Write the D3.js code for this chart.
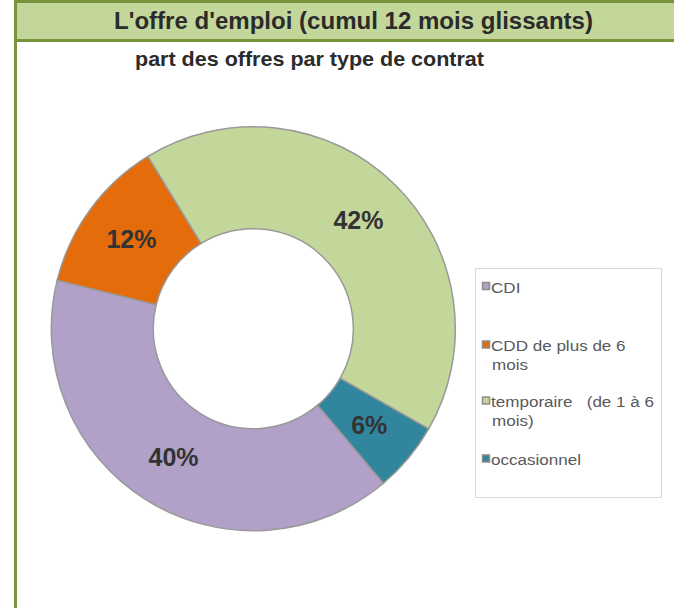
<!DOCTYPE html>
<html>
<head>
<meta charset="utf-8">
<script src="https://cdn.jsdelivr.net/npm/d3@7"></script>
<style>
  body { margin: 0; background: #fff; }
  svg { display: block; font-family: "Liberation Sans", Arial, sans-serif; }
</style>
</head>
<body>
<div id="chart"></div>
<script>
// data
const categories = ["CDI", "CDD de plus de 6 mois", "temporaire   (de 1 à 6 mois)", "occasionnel"];
const legendLines = [["CDI"], ["CDD de plus de 6", "mois"], ["temporaire   (de 1 à 6", "mois)"], ["occasionnel"]];
const shares = [40.0, 12.4, 42.0, 5.6];
const colors = ["#b1a0c7", "#e46c0a", "#c4d79b", "#31859c"];

const title = "L'offre d'emploi (cumul 12 mois glissants)";
const subtitle = "part des offres par type de contrat";

const width = 674, height = 608;
const cx = 253.3, cy = 328.7, outerR = 202, innerR = 100;

const svg = d3.select("#chart").append("svg")
    .attr("width", width)
    .attr("height", height);

// frame: left green rule + header band
svg.append("rect").attr("x", 14).attr("y", 0).attr("width", 3).attr("height", height).attr("fill", "#77933c");
svg.append("rect").attr("x", 14).attr("y", 0).attr("width", width - 14).attr("height", 42).attr("fill", "#77933c");
svg.append("rect").attr("x", 17).attr("y", 3).attr("width", width - 17).attr("height", 36).attr("fill", "#c4d79b");

function stretch(sel, w) {
    sel.attr("textLength", w).attr("lengthAdjust", "spacingAndGlyphs");
}

svg.append("text")
    .attr("x", 114).attr("y", 28.5)
    .attr("font-size", 23).attr("font-weight", "bold").attr("fill", "#2b2b2b")
    .text(title)
    .call(stretch, 479);

svg.append("text")
    .attr("x", 135).attr("y", 66)
    .attr("font-size", 21).attr("font-weight", "bold").attr("fill", "#2b2b2b")
    .text(subtitle)
    .call(stretch, 349);

// donut
const pie = d3.pie()
    .sort(null)
    .startAngle(139.9 * Math.PI / 180)
    .endAngle(139.9 * Math.PI / 180 + 2 * Math.PI);

const arc = d3.arc().innerRadius(innerR).outerRadius(outerR);
const labelArc = d3.arc().innerRadius((innerR + outerR) / 2).outerRadius((innerR + outerR) / 2);

const arcs = pie(shares);

const g = svg.append("g").attr("transform", `translate(${cx},${cy})`);

g.selectAll("path")
    .data(arcs)
    .join("path")
        .attr("d", arc)
        .attr("fill", (d, i) => colors[i])
        .attr("stroke", "#999")
        .attr("stroke-width", 1.5);

g.selectAll(".lbl")
    .data(arcs)
    .join("text")
        .attr("class", "lbl")
        .attr("transform", d => `translate(${labelArc.centroid(d)})`)
        .attr("text-anchor", "middle")
        .attr("dy", "0.36em")
        .attr("font-size", 25)
        .attr("font-weight", "bold")
        .attr("fill", "#333")
        .text(d => Math.round(d.data) + "%");

// legend
const legend = svg.append("g");
legend.append("rect")
    .attr("x", 475.5).attr("y", 268.5).attr("width", 186).attr("height", 229)
    .attr("fill", "#fff").attr("stroke", "#d9d9d9");

const baselines = [292.5, 351, 407, 465];
const lineGap = 19;

legendLines.forEach((lines, i) => {
    legend.append("rect")
        .attr("x", 482.5).attr("y", baselines[i] - 10)
        .attr("width", 7).attr("height", 7)
        .attr("fill", colors[i])
        .attr("stroke", "#8c8c8c")
        .attr("stroke-width", 1.5);
    lines.forEach((ln, j) => {
        const t = legend.append("text")
            .attr("x", j === 0 ? 491 : 492).attr("y", baselines[i] + j * lineGap)
            .attr("font-size", 15.5)
            .attr("fill", "#595959")
            .attr("xml:space", "preserve")
            .style("white-space", "pre")
            .text(ln);
        const len = t.node().getComputedTextLength();
        t.call(stretch, len * 1.1);
    });
});
</script>
</body>
</html>
